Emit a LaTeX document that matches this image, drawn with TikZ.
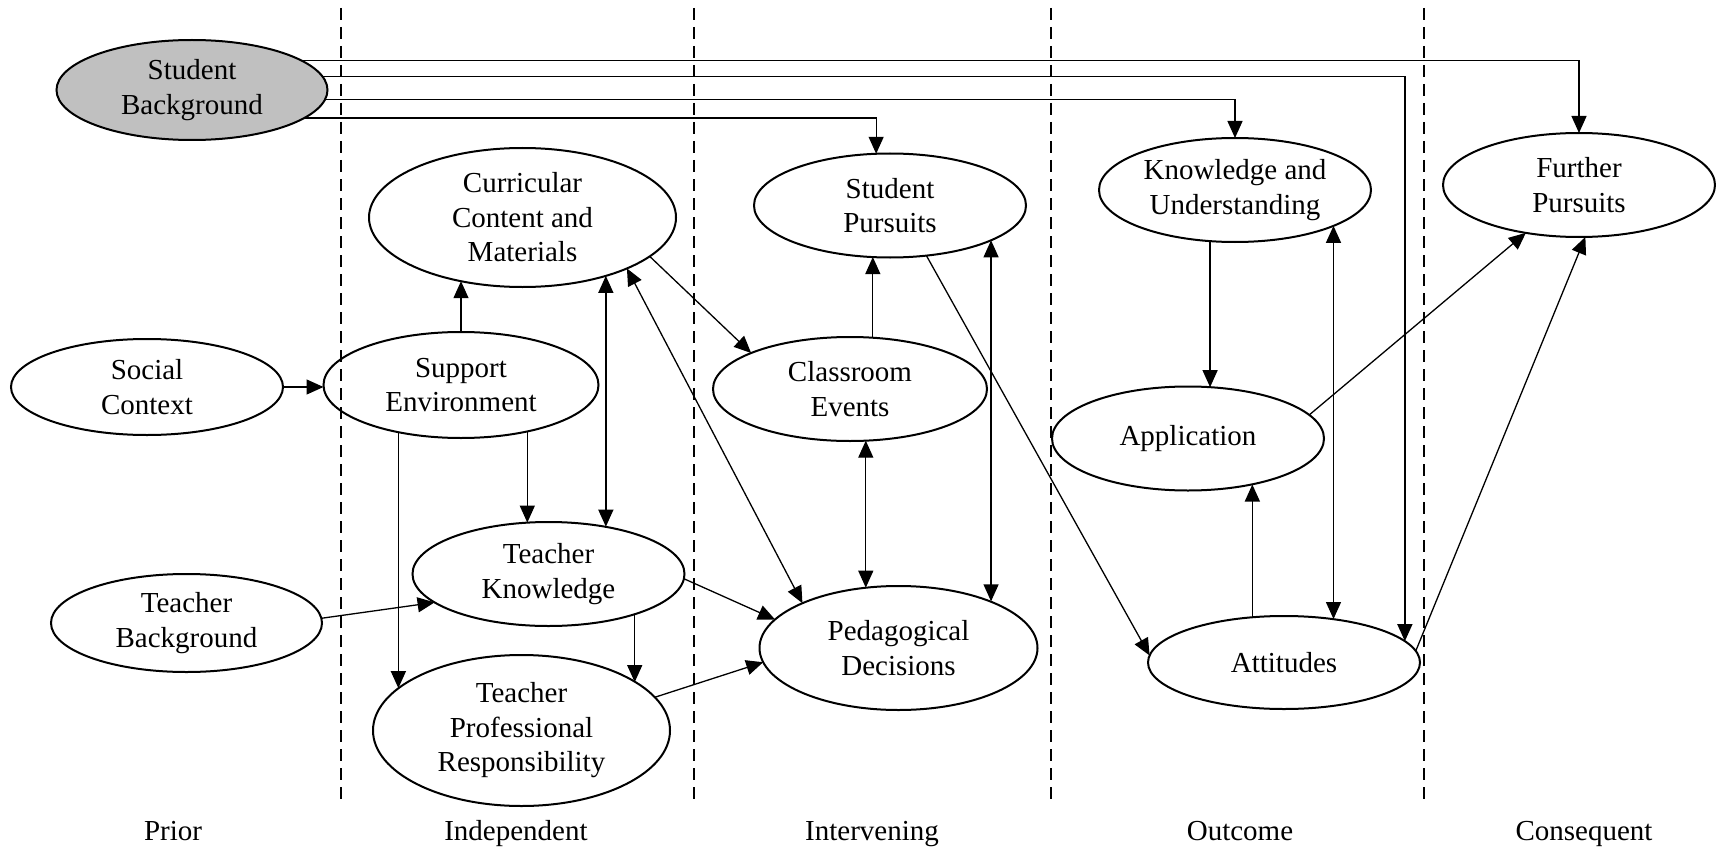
\documentclass[tikz,border=0pt]{standalone}
\usepackage{fontspec}
\setmainfont{Liberation Serif}
\usetikzlibrary{arrows.meta,shapes.geometric}
\definecolor{sbfill}{RGB}{192,192,192}
\begin{document}
\begin{tikzpicture}[x=1pt,y=-1pt,
  txt/.style={font=\fontsize{29}{34.5}\selectfont},
  ell/.style={ellipse, draw, line width=2pt, fill=white, inner sep=0pt, outer sep=0pt, align=center, txt},
  arr/.style={line width=1.3pt, -{Triangle[length=17pt,width=15pt]}},
  darr/.style={line width=1.3pt, {Triangle[length=17pt,width=15pt]}-{Triangle[length=17pt,width=15pt]}},
  divider/.style={line width=2.4pt, dash pattern=on 12pt off 7pt},
  collabel/.style={txt, anchor=base, inner sep=0pt}]
\useasboundingbox (0,0) rectangle (1716,848);

% nodes
\node[ell, fill=sbfill, minimum width=271pt, minimum height=100pt] (sb) at (192,90) {Student\\Background};
\node[ell, minimum width=307pt, minimum height=139pt] (cm) at (522.5,217.5) {Curricular\\Content and\\Materials};
\node[ell, minimum width=272pt, minimum height=96pt] (sc) at (147,387) {Social\\Context};
\node[ell, minimum width=275pt, minimum height=106pt] (se) at (461,385) {Support\\Environment};
\node[ell, minimum width=272pt, minimum height=104pt] (tk) at (548.5,574) {Teacher\\Knowledge};
\node[ell, minimum width=271pt, minimum height=98pt] (tb) at (186.5,623) {Teacher\\Background};
\node[ell, minimum width=297pt, minimum height=151pt] (tpr) at (521.5,730.5) {Teacher\\Professional\\Responsibility};
\node[ell, minimum width=272pt, minimum height=104pt] (sp) at (890,205.5) {Student\\Pursuits};
\node[ell, minimum width=274pt, minimum height=104pt] (ce) at (850,389) {Classroom\\Events};
\node[ell, minimum width=278pt, minimum height=124pt] (pd) at (898.5,648) {Pedagogical\\Decisions};
\node[ell, minimum width=272pt, minimum height=104pt] (ku) at (1235,190) {Knowledge and\\Understanding};
\node[ell, minimum width=272pt, minimum height=104pt] (fp) at (1579,185) {Further\\Pursuits};
\node[ell, minimum width=272pt, minimum height=104pt] (ap) at (1188,438.5) {Application};
\node[ell, minimum width=272pt, minimum height=93pt] (at) at (1284,662.5) {Attitudes};

% connectors
\draw[arr] (sc.east) -- (sc.east -| se.west);
\draw[arr] (se.north) -- (se.north |- cm.-134);
\draw[darr] (cm.-35) -- (cm.-35 |- tk.40);
\draw[darr] (cm.-26) -- (pd.155);
\draw[arr] (cm.-17) -- (ce.160);
\draw[arr] (se.-35) -- (se.-35 |- tk.112);
\draw[arr] (se.-143) -- (se.-143 |- tpr.161);
\draw[arr] (tk.-25) -- (tk.-25 |- tpr.23);
\draw[arr] (tb.2) -- (tk.-166);
\draw[arr] (tk.-2) -- (pd.167);
\draw[arr] (tpr.14) -- (pd.-174);
\draw[arr] (ce.66) -- (ce.66 |- sp.-109);
\draw[darr] (ce.-73) -- (ce.-73 |- pd.118);
\draw[darr] (sp.-19) -- (sp.-19 |- pd.27);
\draw[arr] (sp.-54) -- (at.177);
\draw[arr] (ku.-116) -- (ku.-116 |- ap.67);
\draw[darr] (ku.-20) -- (ku.-20 |- at.42);
\draw[arr] (at.125) -- (at.125 |- ap.-36);
\draw[arr] (ap.11) -- (fp.-138);
\draw[arr] (at.5) -- (fp.-83);
\draw[arr] (sb.15) -| (fp.north);
\draw[arr] (sb.6) -| (at.10);
\draw[arr] (sb.-4) -| (ku.north);
\draw[arr] (sb.-14) -| (sp.105);

% column dividers
\coordinate (d1t) at (341,8);   \coordinate (d1b) at (341,803);
\coordinate (d2t) at (694,8);   \coordinate (d2b) at (694,803);
\coordinate (d3t) at (1050.7,8);\coordinate (d3b) at (1050.7,803);
\coordinate (d4t) at (1424,8);  \coordinate (d4b) at (1424,803);
\draw[divider] (d1t) -- (d1b);
\draw[divider] (d2t) -- (d2b);
\draw[divider] (d3t) -- (d3b);
\draw[divider] (d4t) -- (d4b);

% column labels
\node[collabel] (lprior) at (173,840) {Prior};
\node[collabel] (lindep) at (516,840) {Independent};
\node[collabel] (linter) at (872,840) {Intervening};
\node[collabel] (lout) at (1240,840) {Outcome};
\node[collabel] (lcons) at (1584,840) {Consequent};
\end{tikzpicture}
\end{document}
